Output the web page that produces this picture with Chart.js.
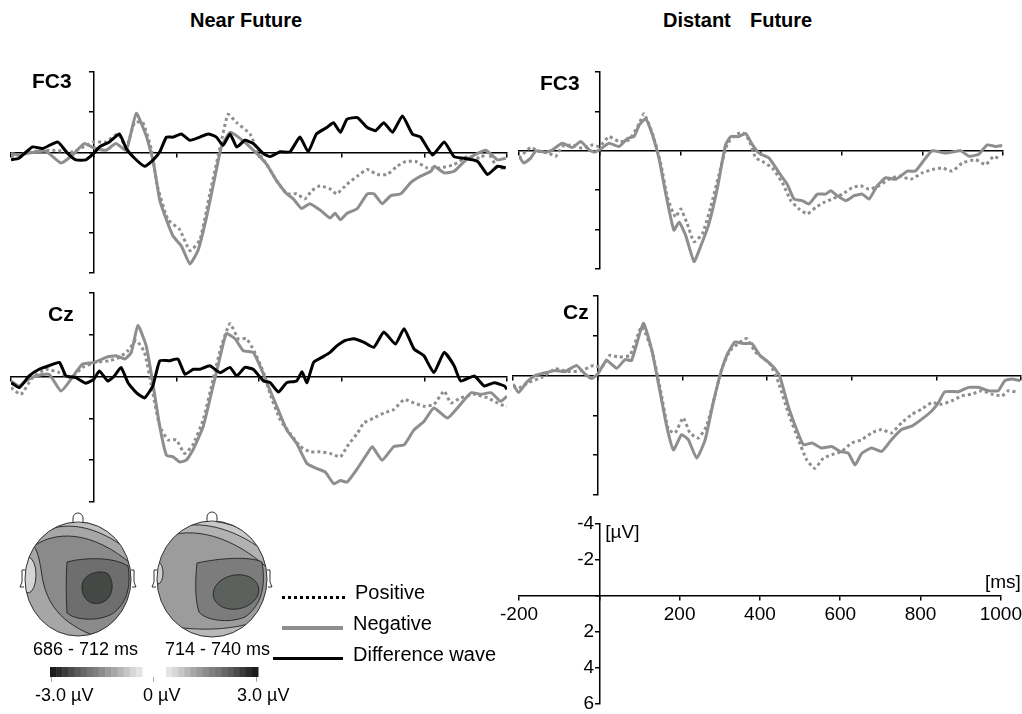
<!DOCTYPE html>
<html>
<head>
<meta charset="utf-8">
<script src="https://cdn.jsdelivr.net/npm/chart.js@4.4.1/dist/chart.umd.min.js"></script>
<style>
  html, body { margin: 0; padding: 0; background: #fff; overflow: hidden; width: 1022px; height: 714px; position: relative;
    font-family: 'Liberation Sans', Arial, sans-serif; color: #000; }
  canvas, .t, .ln { position: absolute; }
  .t { white-space: pre; line-height: 1; }
  .b { font-weight: bold; }
</style>
</head>
<body>

<div class="t b" style="left:190px;top:10px;font-size:20px">Near Future</div>
<div class="t b" style="left:663px;top:10px;font-size:20px">Distant</div>
<div class="t b" style="left:750px;top:10px;font-size:20px">Future</div>

<canvas id="nearFC3" width="504" height="209" style="left:7px;top:68px"></canvas>
<canvas id="nearCz" width="504" height="217" style="left:7px;top:289px"></canvas>
<canvas id="farFC3" width="492" height="205" style="left:515px;top:68px"></canvas>
<canvas id="farCz" width="516" height="207" style="left:509px;top:292px"></canvas>
<canvas id="scale" width="531" height="211" style="left:495px;top:508px"></canvas>
<canvas id="topo" width="300" height="209" style="left:0;top:505px"></canvas>

<div class="t b" style="left:32px;top:70px;font-size:21px">FC3</div>
<div class="t b" style="left:48px;top:303px;font-size:21px">Cz</div>
<div class="t b" style="left:540px;top:72px;font-size:21px">FC3</div>
<div class="t b" style="left:563px;top:301px;font-size:21px">Cz</div>

<div class="t" style="left:33px;top:640px;font-size:18px">686 - 712 ms</div>
<div class="t" style="left:165px;top:640px;font-size:18px">714 - 740 ms</div>
<div class="t" style="left:35px;top:686px;font-size:18px">-3.0 µV</div>
<div class="t" style="left:143px;top:686px;font-size:18px">0 µV</div>
<div class="t" style="left:237px;top:686px;font-size:18px">3.0 µV</div>

<div class="ln" style="left:282px;top:596px;width:63px;border-top:3px dotted #000"></div>
<div class="ln" style="left:282px;top:626px;width:61px;height:4px;background:#8e8e8e"></div>
<div class="ln" style="left:273px;top:657px;width:70px;height:3px;background:#000"></div>
<div class="t" style="left:355px;top:582px;font-size:20px">Positive</div>
<div class="t" style="left:353px;top:613px;font-size:20px">Negative</div>
<div class="t" style="left:353px;top:644px;font-size:20px">Difference wave</div>

<script>
// time axis (ms) and amplitude axis (µV, negative up)
const msTicks = [-200, 0, 200, 400, 600, 800, 1000];
const uvTicks = [-4, -2, 0, 2, 4, 6];

// [ms, µV] samples
const nearFC3Pos = [[-200,0.21],[-148,-0.03],[-100,-0.11],[-51,-0.03],[0,-0.52],[30,-0.52],[58,-0.92],[79,-0.27],[99,-1.48],[119,-1.48],[139,-0.19],[155,1.74],[180,3.35],[208,3.84],[233,4.89],[257,4.35],[281,2.06],[305,-0.19],[325,-1.89],[346,-1.48],[378,-0.92],[398,-0.03],[419,0.61],[443,1.42],[467,2.06],[491,2.06],[511,2.31],[528,1.9],[548,1.66],[572,1.82],[588,2.06],[613,1.58],[638,1.18],[662,0.85],[686,1.1],[710,1.1],[734,0.69],[755,0.45],[779,0.45],[807,0.77],[839,0.77],[872,0.61],[904,0.21],[936,0.29],[953,-0.03],[977,0.77],[997,0.77]];
const nearFC3Neg = [[-200,0.05],[-181,0.13],[-148,0],[-116,-0.06],[-79,0.53],[-51,0.13],[-23,-0.44],[0,-0.23],[30,-0.11],[54,-0.44],[79,-0.11],[103,-1.94],[127,-0.84],[144,0.45],[160,2.39],[176,3.35],[192,4.16],[212,4.65],[233,5.55],[253,4.84],[273,3.23],[293,1.26],[309,-0.27],[330,-1.0],[350,-0.76],[374,-0.35],[398,0.13],[419,0.61],[443,1.42],[467,2.06],[483,2.31],[503,2.79],[523,2.55],[548,2.87],[572,3.27],[584,3.03],[597,3.35],[613,3.03],[638,2.79],[662,2.06],[678,2.06],[698,2.55],[719,2.15],[743,2.06],[767,1.5],[791,1.18],[816,0.94],[824,0.69],[848,1.02],[872,0.94],[897,0.45],[921,0.13],[949,-0.11],[977,0.37],[997,0.29]];
const nearFC3Diff = [[-200,0.37],[-181,0.29],[-148,-0.27],[-124,-0.19],[-87,-0.52],[-63,0.05],[-43,0.37],[-19,0.37],[0,0.05],[14,-0.27],[38,-0.52],[62,-0.92],[79,-0.19],[99,0.29],[123,0.69],[144,0.37],[160,-0.03],[176,-0.76],[192,-0.76],[212,-0.92],[233,-0.6],[257,-0.76],[277,-0.92],[297,-0.76],[313,-0.35],[330,-0.92],[346,-0.27],[366,-0.6],[386,-0.44],[410,0.05],[427,0.21],[451,-0.03],[475,-0.03],[499,-0.76],[519,-0.03],[539,-0.92],[564,-1.24],[580,-1.48],[597,-1.0],[613,-1.65],[638,-1.73],[662,-1.24],[682,-1.08],[702,-1.48],[723,-1.0],[747,-1.81],[771,-0.92],[791,-0.76],[820,0.13],[848,-0.52],[872,0.21],[896,0.29],[929,0.45],[953,1.1],[977,0.69],[997,0.77]];

const nearCzPos = [[-200,0.53],[-176,0.85],[-148,0.05],[-116,-0.35],[-83,-0.19],[-55,0.05],[-27,-0.44],[6,-0.68],[38,-0.76],[62,-0.92],[83,-1.24],[103,-1.73],[123,-1.16],[143,0.77],[160,2.39],[180,3.03],[200,3.03],[220,3.68],[240,3.27],[265,2.06],[289,0.13],[309,-1.48],[330,-2.53],[350,-1.81],[370,-1.81],[390,-1.16],[411,-0.19],[427,0.85],[451,2.06],[475,2.71],[500,3.35],[524,3.6],[548,3.6],[572,3.68],[597,3.84],[613,3.35],[638,2.71],[653,2.23],[678,1.98],[702,1.74],[726,1.58],[751,1.1],[775,1.26],[799,1.42],[823,1.34],[848,0.69],[864,1.26],[888,1.02],[921,0.85],[953,1.02],[985,1.34],[1000,1.42]];
const nearCzNeg = [[-200,0.21],[-180,0.45],[-164,0.21],[-140,-0.03],[-108,-0.11],[-79,0.69],[-55,0.13],[-27,-0.6],[2,-0.68],[30,-0.92],[54,-1.0],[75,-0.84],[91,-1.16],[107,-2.45],[127,-1.48],[143,0.29],[160,2.39],[176,3.76],[192,3.84],[208,4.08],[224,4.0],[240,3.52],[265,2.39],[285,0.77],[301,-0.52],[321,-2.06],[342,-1.81],[362,-1.24],[386,-1.16],[402,-0.52],[419,0.29],[443,1.42],[467,2.55],[491,3.19],[516,4.16],[540,4.4],[560,4.56],[581,5.13],[597,4.97],[613,5.05],[638,4.4],[662,3.68],[674,3.35],[698,4.0],[726,3.35],[751,3.27],[775,2.55],[799,2.15],[823,1.5],[856,1.98],[880,1.5],[913,0.77],[937,0.85],[961,0.77],[985,1.18],[1000,0.94]];
const nearCzDiff = [[-200,0.29],[-180,0.53],[-156,-0.03],[-132,-0.35],[-108,-0.52],[-83,-0.68],[-67,-0.03],[-43,0.05],[-19,0.32],[0,0.13],[14,-0.27],[34,0.21],[50,-0.03],[66,-0.44],[83,0.29],[103,0.77],[123,1.02],[143,0.45],[160,-0.76],[184,-0.76],[204,-0.84],[221,-0.11],[241,-0.35],[257,-0.35],[281,-0.52],[306,-0.19],[330,-0.44],[346,-0.03],[366,-0.44],[386,-0.35],[411,0.21],[427,0.29],[447,0.74],[467,0.29],[491,0.21],[504,-0.23],[516,0.29],[532,-0.68],[552,-0.92],[572,-1.16],[589,-1.48],[609,-1.73],[629,-1.81],[653,-1.65],[678,-1.4],[702,-2.13],[730,-1.56],[751,-2.29],[775,-1.32],[799,-1.0],[823,-0.19],[848,-1.16],[872,-0.52],[888,0.21],[921,-0.03],[945,0.45],[969,0.29],[994,0.45],[1000,0.61]];

const farFC3Pos = [[-200,0.37],[-171,-0.17],[-151,0.03],[-126,0.12],[-109,0.28],[-93,-0.22],[-68,-0.3],[-43,-0.13],[-18,-0.3],[0,-0.22],[23,-0.72],[48,-0.47],[73,-0.55],[98,-1.38],[110,-1.88],[131,-0.88],[152,0.7],[168,2.37],[188,3.37],[201,2.95],[217,3.7],[234,4.62],[255,4.2],[275,2.87],[296,1.2],[317,-0.38],[337,-0.8],[354,-0.93],[370,-0.55],[387,0.37],[403,0.53],[428,0.87],[453,1.62],[474,2.53],[494,2.95],[515,3.2],[536,2.87],[556,2.62],[577,2.45],[602,2.2],[626,1.87],[647,1.78],[668,1.95],[692,1.78],[717,1.45],[742,1.28],[771,1.45],[800,1.12],[825,0.95],[850,0.87],[874,1.03],[899,0.62],[932,0.45],[957,0.7],[977,0.28],[994,0.45]];
const farFC3Neg = [[-200,0.28],[-188,0.62],[-171,0.37],[-158,0],[-134,0.07],[-117,-0.05],[-93,-0.38],[-68,-0.17],[-47,-0.47],[-26,-0.05],[-14,0.07],[0,-0.05],[23,-0.38],[48,-0.22],[69,-0.63],[85,-0.72],[98,-1.3],[114,-1.63],[131,-0.8],[147,0.37],[164,2.2],[184,4.03],[197,3.62],[213,4.28],[234,5.62],[250,4.87],[271,3.7],[292,1.87],[312,-0.3],[325,-0.72],[345,-0.72],[362,-0.88],[379,-0.3],[395,0.12],[420,0.37],[445,1.12],[465,1.7],[482,2.45],[502,2.53],[519,2.7],[540,2.2],[560,2.2],[573,2.03],[589,2.28],[610,2.53],[631,2.28],[651,2.2],[668,2.45],[688,1.78],[709,1.37],[734,1.45],[763,1.03],[783,1.03],[808,0.37],[825,0],[858,0.12],[895,0],[916,0.28],[940,0.17],[961,-0.3],[981,-0.22],[998,-0.27]];

const farCzPos = [[-200,0.51],[-183,0.59],[-163,0.34],[-131,0.08],[-100,-0.34],[-69,-0.2],[-38,-0.25],[-10,-0.51],[9,-0.42],[29,-1.02],[49,-0.93],[76,-1.02],[104,-2.46],[128,-1.27],[148,0.68],[167,2.71],[183,2.88],[202,2.12],[218,2.88],[238,3.14],[257,2.54],[277,1.02],[293,-0.34],[313,-1.27],[332,-1.61],[352,-1.86],[372,-1.19],[387,-0.93],[407,-0.59],[427,0.34],[450,1.86],[474,3.22],[494,4.24],[513,4.66],[533,4.15],[553,3.98],[576,3.81],[600,3.39],[624,3.22],[647,2.88],[671,2.71],[694,2.88],[718,2.37],[742,1.95],[765,1.69],[789,1.36],[813,1.44],[836,1.27],[860,1.02],[884,0.93],[907,0.76],[931,0.93],[955,1.02],[970,0.76],[994,0.85]];
const farCzNeg = [[-200,0.42],[-187,0.85],[-168,0.34],[-148,0],[-124,-0.14],[-101,-0.25],[-77,-0.2],[-50,-0.51],[-30,-0.08],[-14,0.14],[0,-0.08],[21,-0.76],[45,-0.37],[65,-0.81],[80,-0.76],[108,-2.63],[128,-1.27],[143,0.34],[163,2.54],[179,3.73],[198,2.97],[214,3.22],[234,4.15],[254,3.22],[273,1.36],[289,0],[305,-1.02],[324,-1.69],[344,-1.61],[364,-1.61],[383,-1.02],[403,-0.68],[419,-0.34],[431,0.08],[450,1.53],[470,2.71],[486,3.47],[506,3.39],[529,3.64],[553,3.56],[572,3.81],[592,3.9],[608,4.49],[624,3.9],[647,3.64],[671,3.81],[694,3.22],[718,2.71],[742,2.54],[765,2.2],[789,1.78],[805,1.36],[820,0.81],[852,0.81],[876,0.59],[899,0.59],[923,0.76],[946,0.76],[962,0.25],[978,0.17],[998,0.25]];

// colour steps of the topography scale bar, from -3 µV to 0
const barShades = ['#1c1c1c','#2b2b2b','#3b3b3b','#4b4b4b','#5a5a5a','#676767','#767676','#808080','#8d8d8d','#9a9a9a','#a8a8a8','#b7b7b7','#c6c6c6','#d6d6d6','#e4e4e4'];

const GRAY = '#8e8e8e';

function fixedTicks(values) {
  return scale => { scale.ticks = values.map(v => ({ value: v })); };
}

function axis(extra) {
  return Object.assign({
    type: 'linear',
    grid: { drawOnChartArea: false, drawTicks: true, tickLength: 4, color: '#000', lineWidth: 1.5 },
    border: { display: true, color: '#000', width: 1.5 },
    ticks: { display: false }
  }, extra);
}

function erp(id, series, pad) {
  return new Chart(document.getElementById(id), {
    type: 'line',
    data: {
      datasets: series.map(s => ({
        data: s.data.map(p => ({ x: p[0], y: p[1] })),
        borderColor: s.color,
        borderWidth: 3,
        borderDash: s.dash || [],
        borderCapStyle: 'butt',
        pointRadius: 0,
        tension: 0.15,
        fill: false
      }))
    },
    options: {
      responsive: false,
      animation: false,
      events: [],
      layout: { padding: pad || 4 },
      plugins: { legend: { display: false }, tooltip: { enabled: false } },
      scales: {
        x: axis({ min: -200, max: 1000, position: { y: 0 }, afterBuildTicks: fixedTicks(msTicks) }),
        y: axis({ min: -4, max: 6, reverse: true, position: { x: 0 }, afterBuildTicks: fixedTicks(uvTicks) })
      }
    }
  });
}

// first dataset is drawn on top
erp('nearFC3', [
  { data: nearFC3Diff, color: '#000' },
  { data: nearFC3Neg, color: GRAY },
  { data: nearFC3Pos, color: GRAY, dash: [3, 3] }
]);
erp('nearCz', [
  { data: nearCzDiff, color: '#000' },
  { data: nearCzNeg, color: GRAY },
  { data: nearCzPos, color: GRAY, dash: [3, 3] }
]);
erp('farFC3', [
  { data: farFC3Neg, color: GRAY },
  { data: farFC3Pos, color: GRAY, dash: [3, 3] }
]);
erp('farCz', [
  { data: farCzNeg, color: GRAY },
  { data: farCzPos, color: GRAY, dash: [3, 3] }
]);

// calibration axes
const tickFont = { family: "'Liberation Sans', Arial, sans-serif", size: 19 };
const hideZero = v => (v === 0 ? '' : String(v));
new Chart(document.getElementById('scale'), {
  type: 'line',
  data: { datasets: [] },
  options: {
    responsive: false,
    animation: false,
    events: [],
    layout: { padding: { left: 24, right: 24, top: 12, bottom: 12 } },
    plugins: { legend: { display: false }, tooltip: { enabled: false } },
    scales: {
      x: axis({ min: -200, max: 1000, position: { y: 0 }, afterBuildTicks: fixedTicks(msTicks),
        ticks: { display: true, color: '#000', font: tickFont, padding: 4, maxRotation: 0, autoSkip: false, callback: hideZero } }),
      // trailing space keeps the labels clear of the axis line
      y: axis({ min: -4, max: 6, reverse: true, position: { x: 0 }, afterBuildTicks: fixedTicks(uvTicks),
        ticks: { display: true, color: '#000', font: tickFont, padding: 4, autoSkip: false, callback: v => (v === 0 ? '' : v + ' ') } })
    }
  },
  plugins: [{
    id: 'units',
    afterDraw(chart) {
      const { ctx, scales: { x, y } } = chart;
      ctx.save();
      ctx.fillStyle = '#000';
      ctx.font = "19px 'Liberation Sans', Arial, sans-serif";
      ctx.textBaseline = 'middle';
      ctx.textAlign = 'left';
      ctx.fillText('[µV]', x.getPixelForValue(0) + 6, y.getPixelForValue(-4) + 9);
      ctx.textAlign = 'right';
      ctx.fillText('[ms]', x.getPixelForValue(1000) + 20, y.getPixelForValue(0) - 13);
      ctx.restore();
    }
  }]
});

// scalp topographies and their scale bar (illustration)
(function () {
  const ctx = document.getElementById('topo').getContext('2d');
  ctx.translate(0, -505);

  function region(color, build) {
    ctx.beginPath();
    build();
    ctx.closePath();
    ctx.fillStyle = color;
    ctx.fill();
    ctx.strokeStyle = '#222';
    ctx.lineWidth = 0.9;
    ctx.stroke();
  }

  function outline(cx, cy, rx, ry) {
    ctx.strokeStyle = '#333';
    ctx.lineWidth = 1;
    ctx.beginPath();
    ctx.moveTo(cx - 5, cy - ry + 1);
    ctx.lineTo(cx - 5, cy - ry - 4);
    ctx.arc(cx, cy - ry - 4, 5, Math.PI, 0);
    ctx.lineTo(cx + 5, cy - ry + 1);
    ctx.fillStyle = '#fff';
    ctx.fill();
    ctx.stroke();
    for (const s of [-1, 1]) {
      const ex = cx + s * rx;
      ctx.beginPath();
      ctx.moveTo(ex, cy - 9);
      ctx.lineTo(ex + s * 3, cy - 9);
      ctx.lineTo(ex + s * 3, cy + 3);
      ctx.lineTo(ex + s * 5, cy + 8);
      ctx.lineTo(ex + s * 1, cy + 8);
      ctx.stroke();
    }
    ctx.beginPath();
    ctx.ellipse(cx, cy, rx, ry, 0, 0, Math.PI * 2);
    ctx.stroke();
  }

  function clipHead(cx, cy, rx, ry, base) {
    ctx.save();
    ctx.beginPath();
    ctx.ellipse(cx, cy, rx, ry, 0, 0, Math.PI * 2);
    ctx.fillStyle = base;
    ctx.fill();
    ctx.clip();
  }

  // head 1
  clipHead(78, 579, 53, 57, '#a6a6a6');
  region('#8a8a8a', () => {
    ctx.moveTo(34, 546);
    ctx.bezierCurveTo(60, 528, 100, 533, 140, 572);
    ctx.lineTo(140, 660);
    ctx.lineTo(108, 660);
    ctx.lineTo(106, 640);
    ctx.bezierCurveTo(75, 630, 48, 615, 42, 576);
    ctx.bezierCurveTo(40, 562, 38, 552, 34, 546);
  });
  region('#c0c0c0', () => { ctx.moveTo(48, 530); ctx.bezierCurveTo(75, 519, 110, 532, 140, 560); ctx.lineTo(140, 500); ctx.lineTo(48, 500); });
  region('#d9d9d9', () => { ctx.moveTo(60, 523); ctx.bezierCurveTo(85, 517, 115, 528, 140, 550); ctx.lineTo(140, 500); ctx.lineTo(60, 500); });
  region('#efefef', () => { ctx.moveTo(74, 519); ctx.bezierCurveTo(95, 517, 120, 526, 140, 542); ctx.lineTo(140, 500); ctx.lineTo(74, 500); });
  region('#fbfbfb', () => { ctx.moveTo(90, 518); ctx.bezierCurveTo(105, 519, 125, 526, 140, 535); ctx.lineTo(140, 500); ctx.lineTo(90, 500); });
  region('#d4d4d4', () => { ctx.ellipse(28, 575, 8, 18, 0, 0, Math.PI * 2); });
  region('#6e6e6e', () => {
    ctx.moveTo(67, 562);
    ctx.bezierCurveTo(85, 557, 115, 557, 128, 566);
    ctx.bezierCurveTo(131, 585, 128, 603, 112, 614);
    ctx.bezierCurveTo(97, 622, 75, 620, 67, 613);
    ctx.bezierCurveTo(66, 595, 66, 575, 67, 562);
  });
  region('#454945', () => {
    ctx.moveTo(82, 587);
    ctx.bezierCurveTo(82, 573, 101, 569, 108, 574);
    ctx.bezierCurveTo(115, 582, 113, 598, 103, 602);
    ctx.bezierCurveTo(91, 607, 82, 599, 82, 587);
  });
  ctx.restore();
  outline(78, 579, 53, 57);

  // head 2
  clipHead(212, 579, 55, 58, '#9c9c9c');
  region('#b2b2b2', () => { ctx.moveTo(168, 536); ctx.bezierCurveTo(200, 526, 240, 540, 275, 575); ctx.lineTo(275, 500); ctx.lineTo(168, 500); });
  region('#c9c9c9', () => { ctx.moveTo(184, 526); ctx.bezierCurveTo(210, 521, 245, 533, 275, 560); ctx.lineTo(275, 500); ctx.lineTo(184, 500); });
  region('#e0e0e0', () => { ctx.moveTo(199, 521); ctx.bezierCurveTo(220, 519, 250, 528, 275, 550); ctx.lineTo(275, 500); ctx.lineTo(199, 500); });
  region('#f5f5f5', () => { ctx.moveTo(215, 519); ctx.bezierCurveTo(235, 519, 255, 527, 275, 540); ctx.lineTo(275, 500); ctx.lineTo(215, 500); });
  region('#b8b8b8', () => { ctx.moveTo(160, 624); ctx.bezierCurveTo(190, 631, 228, 632, 262, 620); ctx.lineTo(262, 660); ctx.lineTo(160, 660); });
  region('#cfcfcf', () => { ctx.ellipse(158, 573, 5, 11, 0, 0, Math.PI * 2); });
  region('#7c7c7c', () => {
    ctx.moveTo(197, 563);
    ctx.bezierCurveTo(220, 558, 250, 556, 262, 562);
    ctx.bezierCurveTo(266, 585, 262, 605, 245, 617);
    ctx.bezierCurveTo(228, 624, 205, 620, 199, 612);
    ctx.bezierCurveTo(195, 600, 195, 580, 197, 563);
  });
  region('#5d615d', () => { ctx.ellipse(236, 592, 23, 17, -0.2, 0, Math.PI * 2); });
  ctx.restore();
  outline(212, 579, 55, 58);

  // scale bar: dark-to-light, gap at 0, light-to-dark
  const n = barShades.length;
  const w = 92 / n;
  barShades.forEach((c, i) => {
    ctx.fillStyle = c;
    ctx.fillRect(50 + i * w, 667, w + 0.5, 10);
    ctx.fillStyle = barShades[n - 1 - i];
    ctx.fillRect(166 + i * w, 667, w + 0.5, 10);
  });
  ctx.strokeStyle = '#aaa';
  ctx.lineWidth = 1;
  for (const tx of [51, 153, 256]) {
    ctx.beginPath();
    ctx.moveTo(tx + 0.5, 677);
    ctx.lineTo(tx + 0.5, 682);
    ctx.stroke();
  }
})();
</script>
</body>
</html>
